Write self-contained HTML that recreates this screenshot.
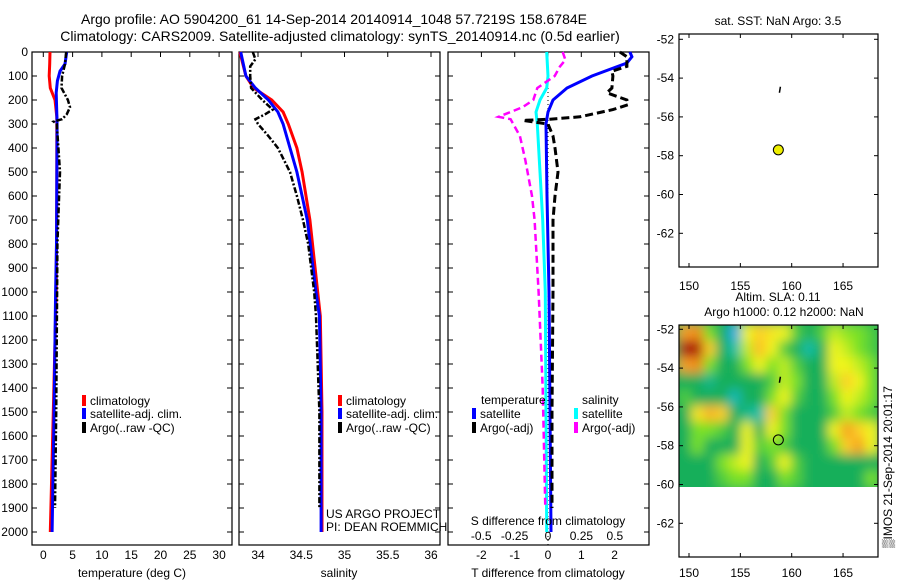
<!DOCTYPE html>
<html><head><meta charset="utf-8"><style>
body{margin:0;background:#fff;}
svg{display:block;font-family:"Liberation Sans",sans-serif;}
text{fill:#000;}
</style></head><body>
<svg id="fig" width="900" height="580" viewBox="0 0 900 580" xmlns="http://www.w3.org/2000/svg">
<defs>
<filter id="blur" x="0" y="0" width="1" height="1"><feGaussianBlur stdDeviation="5.5"/></filter>
<clipPath id="hmclip"><rect x="679" y="325" width="199" height="162"/></clipPath>
</defs>
<text x="334" y="24" font-size="14" text-anchor="middle">Argo profile: AO 5904200_61 14-Sep-2014 20140914_1048 57.7219S 158.6784E</text>
<text x="340" y="41" font-size="14" text-anchor="middle">Climatology: CARS2009. Satellite-adjusted climatology: synTS_20140914.nc (0.5d earlier)</text>
<g id="g"></g>
<text x="778" y="25" font-size="12" text-anchor="middle">sat. SST: NaN Argo: 3.5</text>
<text x="778" y="301" font-size="12" text-anchor="middle">Altim. SLA: 0.11</text>
<text x="784" y="316" font-size="12" text-anchor="middle">Argo h1000: 0.12 h2000: NaN</text>
<text transform="translate(892,548) rotate(-90)" font-size="12">▒IMOS 21-Sep-2014 20:01:17</text>
<text x="326" y="518" font-size="12">US ARGO PROJECT</text>
<text x="326" y="531" font-size="12">PI: DEAN ROEMMICH</text>
<text x="548" y="525" font-size="12" text-anchor="middle">S difference from climatology</text>
<text x="132" y="577" font-size="12" text-anchor="middle">temperature (deg C)</text>
<text x="339" y="577" font-size="12" text-anchor="middle">salinity</text>
<text x="548" y="577" font-size="12" text-anchor="middle">T difference from climatology</text>
</svg>
<script>
// ---- data ----
const depthTicks=[0,100,200,300,400,500,600,700,800,900,1000,1100,1200,1300,1400,1500,1600,1700,1800,1900,2000];
const tempTicks=[0,5,10,15,20,25,30];
const salTicks=[34,34.5,35,35.5,36];
const tdiffTicks=[-2,-1,0,1,2];
const sdiffTicks=[-0.5,-0.25,0,0.25,0.5];
const sdiffTickLabels=["-0.5","-0.25","0","0.25","0.5"];
const latTicks=[-52,-54,-56,-58,-60,-62];
const lonTicks=[150,155,160,165];

const tClimD=[0,50,100,150,200,270,600,1000,1500,2000];
const tClimV=[1.15,1.1,1.0,1.2,2.0,2.3,2.3,2.2,1.7,1.2];
const tSatD=[0,50,80,120,170,300,800,1000,1500,2000];
const tSatV=[4.0,3.7,2.85,2.4,2.2,2.35,2.25,2.1,1.85,1.5];
const tArgoD=[0,50,100,150,200,230,260,280,290,300,500,600,800,1000,1500,1900];
const tArgoV=[3.9,3.7,3.2,3.1,4.2,4.55,4.0,3.2,1.8,2.3,2.85,2.7,2.4,2.35,2.2,2.0];

const sClimD=[0,100,150,200,250,300,400,500,700,1000,1100,1500,2000];
const sClimV=[33.79,33.86,33.95,34.16,34.29,34.35,34.45,34.51,34.60,34.69,34.72,34.74,34.74];
const sSatD=[0,100,150,200,250,300,400,500,700,1000,1100,1500,2000];
const sSatV=[33.80,33.86,33.97,34.12,34.23,34.29,34.37,34.45,34.57,34.67,34.71,34.73,34.73];
const sArgoD=[0,30,60,100,150,200,240,260,280,300,350,400,500,600,700,800,1000,1100,1300,1500,1900];
const sArgoV=[33.94,33.97,33.91,33.91,33.92,34.05,34.17,34.08,33.97,34.00,34.12,34.23,34.37,34.45,34.52,34.58,34.65,34.67,34.69,34.71,34.71];

const dtSatD=[0,20,46,100,150,200,250,300,600,1000,2000];
const dtSatV=[2.46,2.52,2.37,1.32,0.57,0.15,0,-0.06,-0.03,0.03,0.09];
const dtArgoD=[0,20,60,80,100,150,170,200,220,240,270,280,285,300,350,400,500,600,700,1000,1500,1900];
const dtArgoV=[2.16,2.37,2.37,1.92,1.95,1.92,1.77,2.37,2.4,1.95,0.96,0.06,-0.75,0,0.15,0.21,0.3,0.21,0.15,0.15,0.12,0.12];
const dsSatD=[0,100,150,200,250,300,500,700,1000,2000];
const dsSatV=[-0.01,0,-0.01,-0.06,-0.09,-0.08,-0.06,-0.04,-0.02,-0.01];
const dsArgoD=[0,33,60,100,150,200,230,270,280,350,450,600,700,1000,1400,1900];
const dsArgoV=[0.11,0.13,0.09,0.05,-0.08,-0.11,-0.19,-0.37,-0.28,-0.21,-0.17,-0.12,-0.10,-0.07,-0.04,-0.02];

const argoLon=[158.7], argoLat=[-57.7];
const trackLon=[158.9], trackLat=[-54.6];

// SLA heatmap (16 cols x 10 rows, north to south)
const slaRows=[
[2,2.2,0.5,0,-1,1,1.5,1.2,1,0.3,0,0.3,0.8,0.6,0.5,0.3],
[3,3,1.5,0,-0.5,0.8,1.7,1,0.3,0,-0.5,0,1,0.8,0.5,0.3],
[2,2.2,0.5,0,0,0.5,1,0.5,0.8,0.3,0,0,1,1,0.8,0.5],
[0,0,-0.3,0,0,0,0,0.3,0.8,0.5,0,0,0.8,1.5,1,0.5],
[0.3,0,0,0,-0.6,0,0,0.5,1,0.3,0,0,0.5,1,0.8,0.5],
[0,1.2,1.8,1.5,0,-0.3,-0.5,1.5,0.5,0,0,0,0.3,0.8,0.5,0.3],
[0,0.5,0.5,0.3,0,1,0,1,0.5,0,0,0,1,2,1.5,1],
[0,0.5,0,0,0,1,0.3,0.5,0.3,0,0,0,0.5,1.5,2,1],
[0,0,0,0.5,0.8,1,0,0.3,1,0.3,0,0,0,0,0,0],
[0,0,0,0.3,0.5,0.5,0,0,0.5,0.3,0,0,0,0,0,0.5]];

// ---- helpers ----
const NS="http://www.w3.org/2000/svg";
const G=document.getElementById('g');
function el(tag,attrs,parent){const e=document.createElementNS(NS,tag);for(const k in attrs)e.setAttribute(k,attrs[k]);(parent||G).appendChild(e);return e;}
const Y=d=>52+d*0.24;
const xT=v=>43.3+v*5.86;
const xS=v=>258+(v-34)*86.5;
const xDT=v=>548+v*33.3;
const xDS=v=>548+v*133.6;
const lonX=v=>689+(v-150)*10.27;
const latYTop=v=>39.3+(-52-v)*19.4;
const latYBot=v=>329.3+(-52-v)*19.4;

function panel(x0,x1,name){
  const r=el('rect',{x:x0,y:52,width:x1-x0,height:493,fill:'none',stroke:'#000','stroke-width':1.2});
  
  
  depthTicks.forEach(d=>{
    el('line',{x1:x0,x2:x0+5,y1:Y(d),y2:Y(d),stroke:'#000'});
    el('line',{x1:x1-5,x2:x1,y1:Y(d),y2:Y(d),stroke:'#000'});
  });
}
function series(fx,ds,vs,color,w,dash,name){
  const pts=ds.map((d,i)=>fx(vs[i]).toFixed(1)+','+Y(d).toFixed(1)).join(' ');
  const p=el('polyline',{points:pts,fill:'none',stroke:color,'stroke-width':w});
  if(dash)p.setAttribute('stroke-dasharray',dash);
  
  
}
function xticks(fx,ticks,labels,x0,x1,ly,top){
  ticks.forEach((t,i)=>{
    const x=fx(t);
    if(top)el('line',{x1:x,x2:x,y1:52,y2:57,stroke:'#000'});
    const tx=el('text',{x:x,y:ly,'font-size':12,'text-anchor':'middle'});
    tx.textContent=labels?labels[i]:String(t);
    
    
  });
}
function legendEntry(x,y,color,label){
  el('rect',{x:x,y:y-9,width:4,height:11,fill:color});
  const t=el('text',{x:x+8,y:y+1,'font-size':12});
  t.textContent=label;
  
  
}

depthTicks.forEach(d=>{
  const t=el('text',{x:28,y:Y(d)+4,'font-size':12,'text-anchor':'end'});
  t.textContent=String(d);
  
  
});

panel(32,232,'temperature-panel');
xticks(xT,tempTicks,null,32,232,559,true);
series(xT,tClimD,tClimV,'#f00',3,null,'temp-climatology-line');
series(xT,tSatD,tSatV,'#00f',3,null,'temp-satellite-line');
series(xT,tArgoD,tArgoV,'#000',2.5,'6 2 2 2','temp-argo-line');
legendEntry(82,404,'#f00','climatology');
legendEntry(82,417,'#00f','satellite-adj. clim.');
legendEntry(82,431,'#000','Argo(..raw -QC)');

panel(239,440,'salinity-panel');
xticks(xS,salTicks,null,239,440,559,true);
series(xS,sClimD,sClimV,'#f00',3,null,'sal-climatology-line');
series(xS,sSatD,sSatV,'#00f',3,null,'sal-satellite-line');
series(xS,sArgoD,sArgoV,'#000',2.5,'6 2 2 2','sal-argo-line');
legendEntry(338,404,'#f00','climatology');
legendEntry(338,417,'#00f','satellite-adj. clim.');
legendEntry(338,431,'#000','Argo(..raw -QC)');

panel(448,649,'difference-panel');
xticks(xDT,tdiffTicks,null,448,649,559,true);
xticks(xDS,sdiffTicks,sdiffTickLabels,448,649,540,false);
el('line',{x1:548,x2:548,y1:52,y2:545,stroke:'#000','stroke-dasharray':'1 3'});
series(xDS,dsSatD,dsSatV,'#0ff',3,null,'sdiff-satellite-line');
series(xDS,dsArgoD,dsArgoV,'#f0f',2.5,'7 4','sdiff-argo-line');
series(xDT,dtSatD,dtSatV,'#00f',3,null,'tdiff-satellite-line');
series(xDT,dtArgoD,dtArgoV,'#000',3,'8 4','tdiff-argo-line');
(function(){const t=el('text',{x:481,y:404,'font-size':12});t.textContent='temperature';


const s=el('text',{x:582,y:404,'font-size':12});s.textContent='salinity';

})();
legendEntry(472,417,'#00f','satellite');
legendEntry(472,431,'#000','Argo(-adj)');
legendEntry(574,417,'#0ff','satellite');
legendEntry(574,431,'#f0f','Argo(-adj)');

function mapAxes(top,bottom,latY,name,lonLabelY){
  const r=el('rect',{x:679,y:top,width:199,height:bottom-top,fill:'none',stroke:'#000','stroke-width':1.2});
  
  
  latTicks.forEach(v=>{
    const y=latY(v);
    el('line',{x1:679,x2:683,y1:y,y2:y,stroke:'#000'});
    el('line',{x1:874,x2:878,y1:y,y2:y,stroke:'#000'});
    const t=el('text',{x:674,y:y+4,'font-size':12,'text-anchor':'end'});
    t.textContent=String(v);
    
    
  });
  lonTicks.forEach(v=>{
    const x=lonX(v);
    el('line',{x1:x,x2:x,y1:top,y2:top+4,stroke:'#000'});
    el('line',{x1:x,x2:x,y1:bottom-4,y2:bottom,stroke:'#000'});
    const t=el('text',{x:x,y:lonLabelY,'font-size':12,'text-anchor':'middle'});
    t.textContent=String(v);
    
    
  });
}
function slaColor(v){
  const stops=[[-1,[40,170,230]],[-0.5,[20,190,170]],[0,[20,175,90]],[0.5,[120,225,40]],[1,[240,245,30]],[1.6,[255,200,40]],[2.2,[240,140,30]],[3,[170,10,10]]];
  if(v<=stops[0][0])return 'rgb('+stops[0][1]+')';
  for(let i=1;i<stops.length;i++){if(v<=stops[i][0]){const a=stops[i-1],b=stops[i];const f=(v-a[0])/(b[0]-a[0]);return 'rgb('+a[1].map((c,k)=>Math.round(c+(b[1][k]-c)*f)).join(',')+')';}}
  return 'rgb('+stops[stops.length-1][1]+')';
}
const hmOuter=el('g',{'clip-path':'url(#hmclip)'});


const hm=el('g',{filter:'url(#blur)'},hmOuter);
const cw=199/slaRows[0].length, ch=162/slaRows.length;
el('rect',{x:665,y:311,width:227,height:190,fill:slaColor(0)},hm);
slaRows.forEach((row,r)=>row.forEach((v,c)=>{
  const cell=el('rect',{x:(679+c*cw-0.5).toFixed(1),y:(325+r*ch-0.5).toFixed(1),width:(cw+1).toFixed(1),height:(ch+1).toFixed(1),fill:slaColor(v)},hm);
  
  
}));
mapAxes(34,267,latYTop,'sst-map',290);
mapAxes(325,557,latYBot,'sla-map',577);
argoLon.forEach((lo,i)=>{
  const c=el('circle',{cx:lonX(lo),cy:latYTop(argoLat[i]),r:5,fill:'#ee0',stroke:'#000','stroke-width':1});
  
  
  const c2=el('circle',{cx:lonX(lo),cy:latYBot(argoLat[i]),r:5,fill:'none',stroke:'#000','stroke-width':1});
  
  
});
trackLon.forEach((lo,i)=>{
  const a=el('line',{x1:lonX(lo),x2:lonX(lo)-1,y1:latYTop(trackLat[i])-3,y2:latYTop(trackLat[i])+3,stroke:'#000','stroke-width':1.5});
  
  
  const b=el('line',{x1:lonX(lo),x2:lonX(lo)-1,y1:latYBot(trackLat[i])-3,y2:latYBot(trackLat[i])+3,stroke:'#000','stroke-width':1.5});
  
  
});
</script>
</body></html>
